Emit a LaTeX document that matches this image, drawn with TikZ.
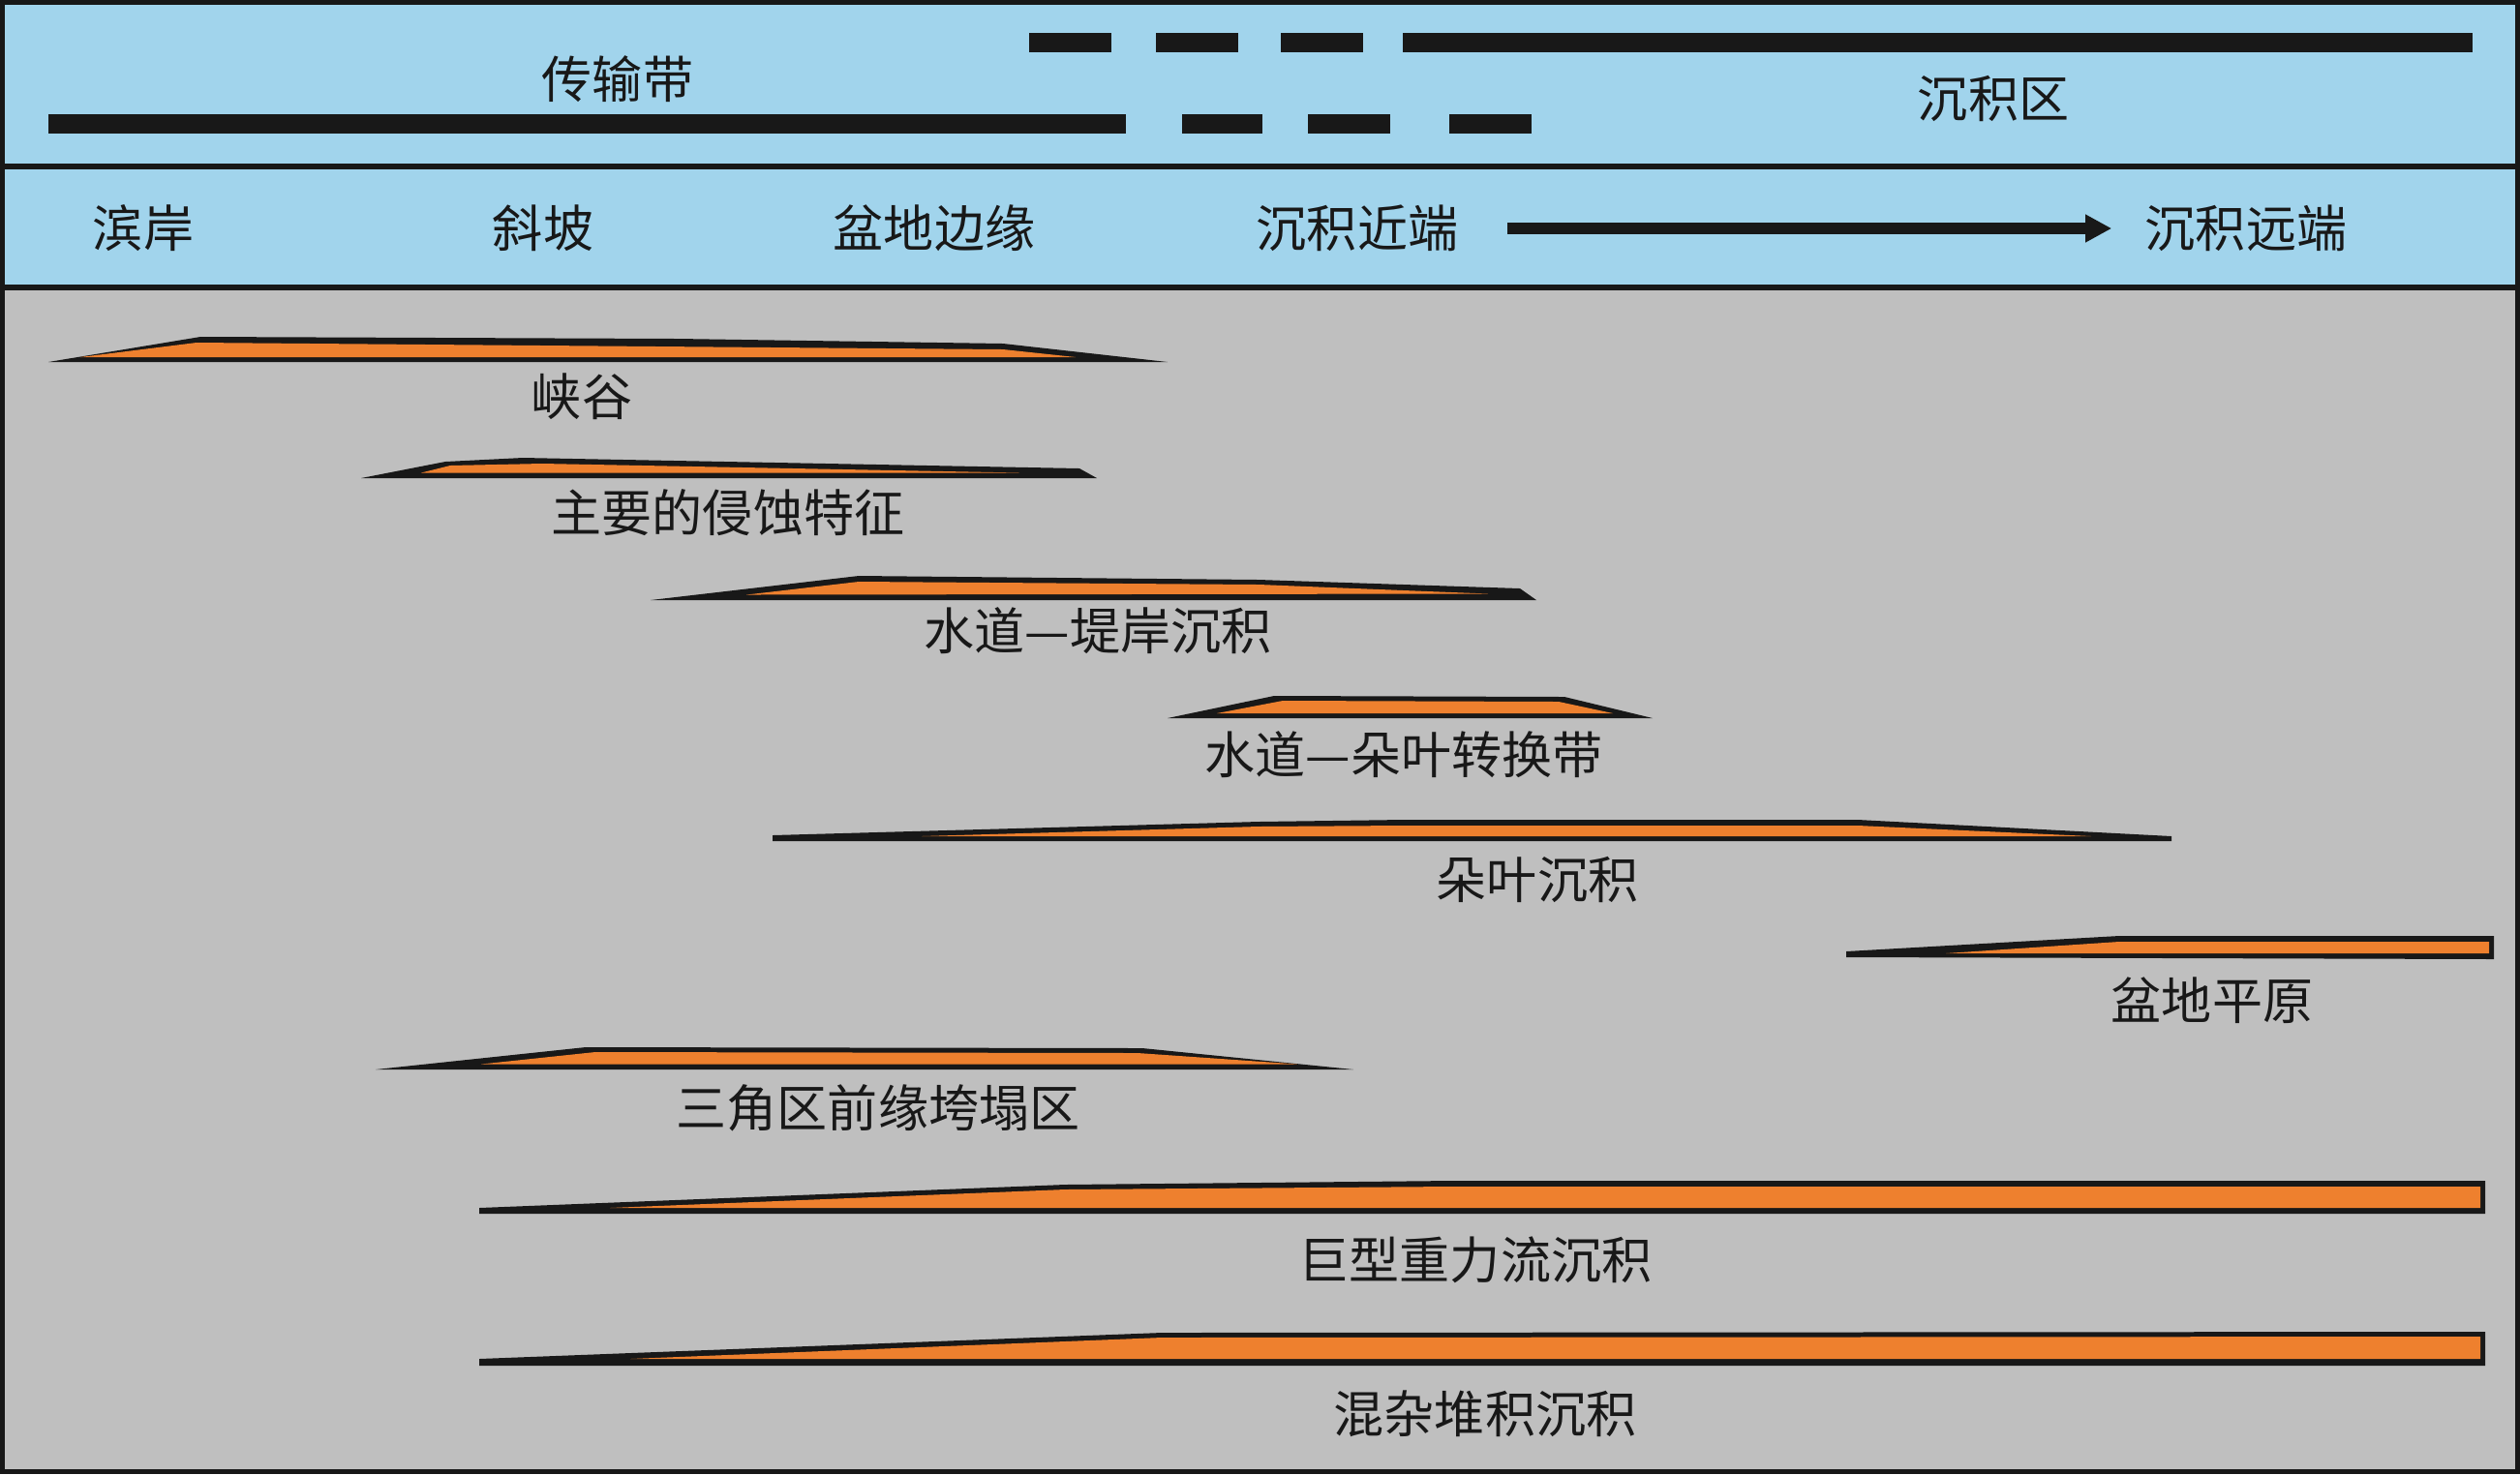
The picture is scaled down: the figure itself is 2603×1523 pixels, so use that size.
\documentclass[tikz,border=0pt]{standalone}
\usepackage{fontspec}
\setmainfont{Noto Sans CJK SC}
\usetikzlibrary{arrows.meta}
\definecolor{bandblue}{RGB}{161,212,236}
\definecolor{basegray}{RGB}{191,191,191}
\definecolor{sandorange}{RGB}{238,128,46}
\definecolor{ink}{RGB}{24,24,24}
\tikzset{
  lbl/.style={font=\fontsize{14.8pt}{16pt}\selectfont, text=ink, inner sep=0pt},
  bar/.style={fill=ink, draw=none},
  lensout/.style={fill=ink, draw=none},
  lensin/.style={fill=sandorange, draw=none},
  divider/.style={draw=ink, line width=0.06cm},
  flowarrow/.style={draw=ink, line width=0.12cm, -{Triangle[length=0.27cm, width=0.27cm]}, shorten <=0.5cm, shorten >=0.34cm}
}
\begin{document}
\begin{tikzpicture}[x=0.01cm, y=-0.01cm]
\useasboundingbox (0,0) rectangle (2603,1523);
% backgrounds
\fill[bandblue] (0,0) rectangle (2603,172);
\fill[bandblue] (0,172) rectangle (2603,297);
\fill[basegray] (0,297) rectangle (2603,1523);
% dividers and frame
\draw[divider] (0,172) -- (2603,172);
\draw[divider] (0,297) -- (2603,297);
\draw[draw=ink, line width=0.05cm] (2.5,2.5) rectangle (2600.5,1520.5);
% upper row of bars
\fill[bar] (1063,34) rectangle (1148,54);
\fill[bar] (1194,34) rectangle (1279,54);
\fill[bar] (1323,34) rectangle (1408,54);
\fill[bar] (1449,34) rectangle (2554,54);
% lower row of bars
\fill[bar] (50,118) rectangle (1163,138);
\fill[bar] (1221,118) rectangle (1304,138);
\fill[bar] (1351,118) rectangle (1436,138);
\fill[bar] (1497,118) rectangle (1582,138);
% header labels
\node[lbl] (zone1) at (638,82) {传输带};
\node[lbl] (zone2) at (2059,102) {沉积区};
\node[lbl] (shore) at (148,236) {滨岸};
\node[lbl] (slope) at (561,236) {斜坡};
\node[lbl] (margin) at (965,236) {盆地边缘};
\node[lbl] (prox) at (1402,236) {沉积近端};
\node[lbl] (dist) at (2320,236) {沉积远端};
\draw[flowarrow] (prox.east) -- (dist.west);
% lens 1
\fill[lensout] (50,374) -- (207,348) -- (700,350) -- (1036,355) -- (1206,374) -- cycle;
\fill[lensin] (83,369) -- (203,354) -- (1036,361) -- (1111,369) -- cycle;
\node[lbl] (l1) at (601,410) {峡谷};
% lens 2
\fill[lensout] (373,494) -- (460,477) -- (540,473) -- (1115,484) -- (1133,494) -- cycle;
\fill[lensin] (435,488.5) -- (465,481) -- (560,479) -- (1053,488.5) -- cycle;
\node[lbl] (l2) at (752,530) {主要的侵蚀特征};
% lens 3
\fill[lensout] (672,620) -- (887,595) -- (1300,599) -- (1570,608) -- (1587,620) -- cycle;
\fill[lensin] (771,614.5) -- (887,601) -- (1300,604) -- (1537,613.5) -- cycle;
\node[lbl] (l3) at (1134,652) {水道—堤岸沉积};
% lens 4
\fill[lensout] (1206,742) -- (1316,719) -- (1616,720) -- (1707,742) -- cycle;
\fill[lensin] (1257,737) -- (1325,724) -- (1610,725) -- (1666,737) -- cycle;
\node[lbl] (l4) at (1450,780) {水道—朵叶转换带};
% lens 5
\fill[lensout] (798,863) -- (1300,849) -- (1450,847) -- (1919,847) -- (2243,864) -- (2243,869) -- (798,869) -- cycle;
\fill[lensin] (952,864) -- (1300,854) -- (1450,853) -- (1919,853) -- (2160,864) -- cycle;
\node[lbl] (l5) at (1588,909) {朵叶沉积};
% lens 6
\fill[lensout] (1907,983) -- (2189,967) -- (2576,967) -- (2576,991) -- (1907,989) -- cycle;
\fill[lensin] (2010,985) -- (2189,973) -- (2571,973) -- (2571,985) -- cycle;
\node[lbl] (l6) at (2285,1034) {盆地平原};
% lens 7
\fill[lensout] (388,1105) -- (605,1082) -- (1180,1083) -- (1398,1105) -- cycle;
\fill[lensin] (497,1099.5) -- (615,1087) -- (1175,1088) -- (1340,1099.5) -- cycle;
\node[lbl] (l7) at (907,1145) {三角区前缘垮塌区};
% lens 8
\fill[lensout] (495,1248) -- (1100,1224) -- (1500,1220) -- (2567,1220) -- (2567,1254) -- (495,1254) -- cycle;
\fill[lensin] (630,1248) -- (1100,1229) -- (1500,1226) -- (2562,1226) -- (2562,1248) -- cycle;
\node[lbl] (l8) at (1524,1302) {巨型重力流沉积};
% lens 9
\fill[lensout] (495,1404) -- (1200,1377) -- (2567,1376) -- (2567,1411) -- (495,1411) -- cycle;
\fill[lensin] (651,1404) -- (1200,1382) -- (2562,1381) -- (2562,1404) -- cycle;
\node[lbl] (l9) at (1534,1461) {混杂堆积沉积};
\end{tikzpicture}
\end{document}
